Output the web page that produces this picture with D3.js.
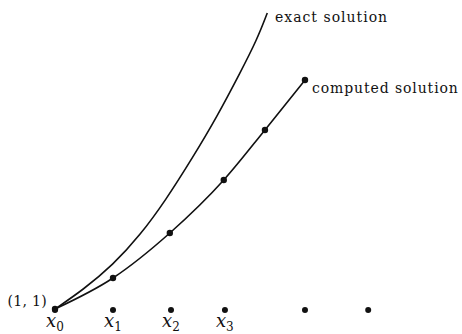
<!DOCTYPE html>
<html>
<head>
<meta charset="utf-8">
<script src="https://cdn.jsdelivr.net/npm/d3@7"></script>
<style>
  body { margin: 0; background: #fff; }
  text { font-family: "DejaVu Serif", "Liberation Serif", serif; fill: #111; }
</style>
</head>
<body>
<svg id="chart"></svg>
<script>
// exact solution curve
const exactX = [1, 1.048, 1.1, 1.147, 1.19, 1.238, 1.279, 1.319, 1.348, 1.366];
const exactY = [1, 1.19, 1.44, 1.74, 2.08, 2.52, 2.92, 3.36, 3.69, 3.96];

// computed (Euler) points
const compX = [1, 1.1, 1.198, 1.291, 1.362, 1.431];
const compY = [1, 1.31, 1.76, 2.29, 2.79, 3.29];

// grid points on the x axis
const gridX = [1, 1.1, 1.2, 1.293, 1.431, 1.54];
const gridY = 0.99;
const gridLabels = ["0", "1", "2", "3"];

const dimensions = { width: 462, height: 334 };

const svg = d3.select("#chart")
  .attr("width", dimensions.width)
  .attr("height", dimensions.height);

const xScale = d3.scaleLinear().domain([1, 1.7]).range([55, 461]);
const yScale = d3.scaleLinear().domain([1, 4.09]).range([309, 0]);

const line = d3.line()
  .x(d => xScale(d[0]))
  .y(d => yScale(d[1]));

// exact solution
svg.append("path")
  .datum(d3.zip(exactX, exactY))
  .attr("d", line.curve(d3.curveBasis))
  .attr("fill", "none")
  .attr("stroke", "#111")
  .attr("stroke-width", 1.6);

// computed solution
svg.append("path")
  .datum(d3.zip(compX, compY))
  .attr("d", line.curve(d3.curveMonotoneX))
  .attr("fill", "none")
  .attr("stroke", "#111")
  .attr("stroke-width", 1.6);

svg.selectAll(".comp")
  .data(d3.zip(compX, compY))
  .enter()
  .append("circle")
  .attr("cx", d => xScale(d[0]))
  .attr("cy", d => yScale(d[1]))
  .attr("r", 3.2)
  .attr("fill", "#111");

svg.selectAll(".grid")
  .data(gridX)
  .enter()
  .append("circle")
  .attr("cx", d => xScale(d))
  .attr("cy", yScale(gridY))
  .attr("r", 3)
  .attr("fill", "#111");

// x_n labels
const lab = svg.selectAll(".xlab")
  .data(gridLabels)
  .enter()
  .append("text")
  .attr("x", (d, i) => xScale(gridX[i]) - 9)
  .attr("y", 327)
  .style("font-size", "18px");
lab.append("tspan")
  .style("font-style", "italic")
  .text("x");
lab.append("tspan")
  .attr("dy", 4)
  .style("font-size", "12px")
  .text(d => d);

svg.append("text")
  .attr("x", 47)
  .attr("y", 306)
  .attr("text-anchor", "end")
  .style("font-size", "14px")
  .style("letter-spacing", "0.3px")
  .text("(1, 1)");

svg.append("text")
  .attr("x", 275)
  .attr("y", 22)
  .style("font-size", "14px")
  .style("letter-spacing", "1px")
  .text("exact solution");

svg.append("text")
  .attr("x", xScale(compX[compX.length - 1]) + 7)
  .attr("y", 93)
  .style("font-size", "14px")
  .style("letter-spacing", "0.9px")
  .text("computed solution");
</script>
</body>
</html>
